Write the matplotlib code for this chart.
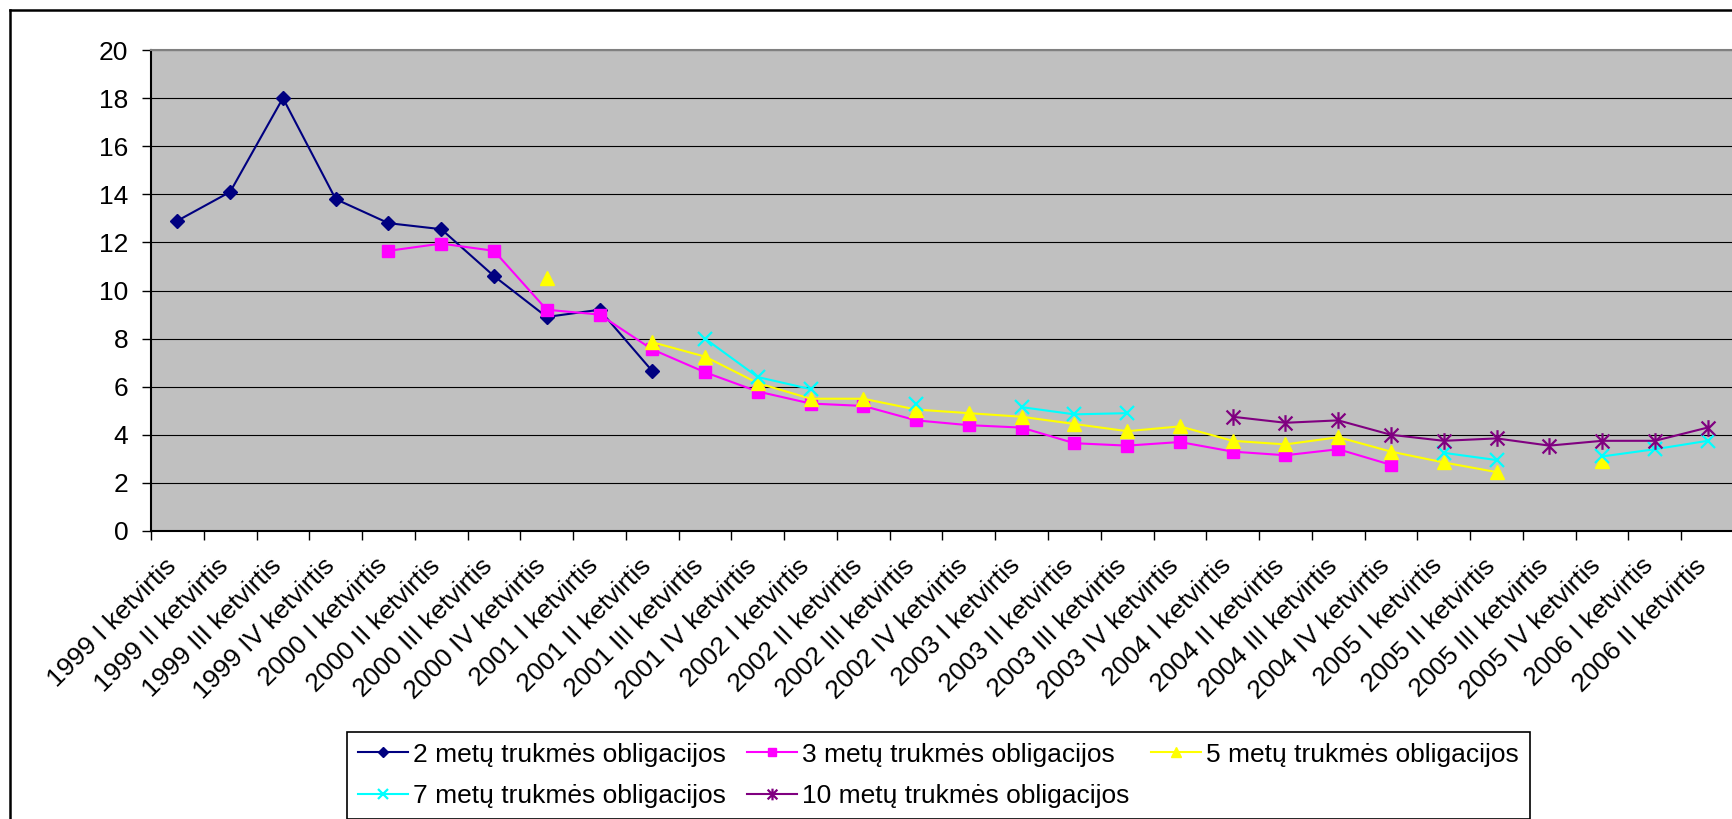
import numpy as np
import matplotlib
matplotlib.use("Agg")
import matplotlib.pyplot as plt
from matplotlib.path import Path
from matplotlib.lines import Line2D

plt.rcParams['font.family'] = ['Liberation Sans', 'DejaVu Sans']

# ketvirčiai
quarters = []
for year, qs in [(1999, ['I', 'II', 'III', 'IV']), (2000, ['I', 'II', 'III', 'IV']),
                 (2001, ['I', 'II', 'III', 'IV']), (2002, ['I', 'II', 'III', 'IV']),
                 (2003, ['I', 'II', 'III', 'IV']), (2004, ['I', 'II', 'III', 'IV']),
                 (2005, ['I', 'II', 'III', 'IV']), (2006, ['I', 'II'])]:
    for q in qs:
        quarters.append(f"{year} {q} ketvirtis")

nan = np.nan
bonds_2y = [12.9, 14.1, 18.0, 13.8, 12.8, 12.55, 10.6, 8.9, 9.2, 6.65,
            nan, nan, nan, nan, nan, nan, nan, nan, nan, nan,
            nan, nan, nan, nan, nan, nan, nan, nan, nan, nan]
bonds_3y = [nan, nan, nan, nan, 11.65, 11.95, 11.65, 9.2, 9.0, 7.55,
            6.6, 5.8, 5.3, 5.2, 4.6, 4.4, 4.3, 3.65, 3.55, 3.7,
            3.3, 3.15, 3.4, 2.75, nan, nan, nan, nan, nan, nan]
bonds_5y = [nan, nan, nan, nan, nan, nan, nan, 10.5, nan, 7.85,
            7.25, 6.15, 5.5, 5.5, 5.05, 4.9, 4.75, 4.45, 4.15, 4.35,
            3.75, 3.6, 3.9, 3.3, 2.85, 2.45, nan, 2.9, nan, nan]
bonds_7y = [nan, nan, nan, nan, nan, nan, nan, nan, nan, nan,
            8.0, 6.4, 5.9, nan, 5.3, nan, 5.15, 4.85, 4.9, nan,
            nan, nan, nan, nan, 3.25, 2.95, nan, 3.1, 3.4, 3.75]
bonds_10y = [nan, nan, nan, nan, nan, nan, nan, nan, nan, nan,
             nan, nan, nan, nan, nan, nan, nan, nan, nan, nan,
             4.75, 4.5, 4.6, 4.0, 3.75, 3.85, 3.55, 3.75, 3.75, 4.3]

labels = ["2 metų trukmės obligacijos", "3 metų trukmės obligacijos",
          "5 metų trukmės obligacijos", "7 metų trukmės obligacijos",
          "10 metų trukmės obligacijos"]

# Excel "star" marker: x plus vertical bar
star = Path([(-1, -1), (1, 1), (-1, 1), (1, -1), (0, -1.2), (0, 1.2)],
            [Path.MOVETO, Path.LINETO, Path.MOVETO, Path.LINETO, Path.MOVETO, Path.LINETO])

W, H = 1733, 819
fig = plt.figure(figsize=(W / 100, H / 100), dpi=100)
fig.patch.set_facecolor('white')

ax = fig.add_axes([151 / W, 1 - 531 / H, (1734 - 151) / W, (531 - 50) / H])
ax.set_facecolor('#C0C0C0')

x = np.arange(len(quarters))
h2, = ax.plot(x, bonds_2y, color='#000080', lw=1.5, marker='D', ms=7, label=labels[0])
h3, = ax.plot(x, bonds_3y, color='#FF00FF', lw=1.5, marker='s', ms=8.5, label=labels[1])
h5, = ax.plot(x, bonds_5y, color='#FFFF00', lw=1.5, marker='^', ms=10, label=labels[2])
h7, = ax.plot(x, bonds_7y, color='#00FFFF', lw=1.5, marker='x', ms=10, mew=1.6, label=labels[3])
h10, = ax.plot(x, bonds_10y, color='#800080', lw=1.5, marker=star, ms=12, mew=1.6,
               mfc='none', label=labels[4])

ax.set_xlim(-0.5, len(quarters) - 0.5)
ax.set_ylim(0, 20)
ax.set_yticks(np.arange(0, 21, 2))
ax.yaxis.grid(True, color='black', lw=0.8)
ax.set_axisbelow(True)

# ticks between categories, labels at centres
ax.set_xticks(np.arange(len(quarters) + 1) - 0.5)
ax.set_xticklabels([])
ax.set_xticks(x, quarters, minor=True)
ax.tick_params(axis='x', which='major', direction='out', length=6.3, width=1)
ax.tick_params(axis='x', which='minor', length=0, pad=26, labelsize=19)
ax.tick_params(axis='y', direction='out', length=6.3, width=1, pad=10, labelsize=19)
for lab in ax.get_xticklabels(minor=True):
    lab.set_rotation(45)
    lab.set_ha('right')
    lab.set_va('baseline')
    lab.set_rotation_mode('anchor')

ax.spines['left'].set_color('black')
ax.spines['left'].set_linewidth(1.5)
ax.spines['bottom'].set_color('black')
ax.spines['bottom'].set_linewidth(1.5)
ax.spines['top'].set_color('#808080')
ax.spines['top'].set_linewidth(1.5)
ax.spines['right'].set_visible(False)

# legend rows go across, so reorder for column filling
leg = fig.legend([h2, h7, h3, h10, h5],
                 [labels[0], labels[3], labels[1], labels[4], labels[2]],
                 ncol=3, loc='upper left', bbox_to_anchor=(347 / W, 1 - 732 / H),
                 fontsize=19, frameon=True, fancybox=False, framealpha=1,
                 edgecolor='black', handlelength=1.9, handletextpad=0.2,
                 columnspacing=0.8, labelspacing=0.68, borderpad=0.4,
                 markerscale=0.7, borderaxespad=0)
leg.get_frame().set_linewidth(1.2)

# outer chart border (cropped on the right and bottom)
fig.add_artist(Line2D([10 / W, 10 / W], [0, 1 - 10 / H], color='black', lw=1.8,
                      transform=fig.transFigure))
fig.add_artist(Line2D([10 / W, 1], [1 - 10 / H, 1 - 10 / H], color='black', lw=1.8,
                      transform=fig.transFigure))

fig.savefig('out.png', dpi=100)
